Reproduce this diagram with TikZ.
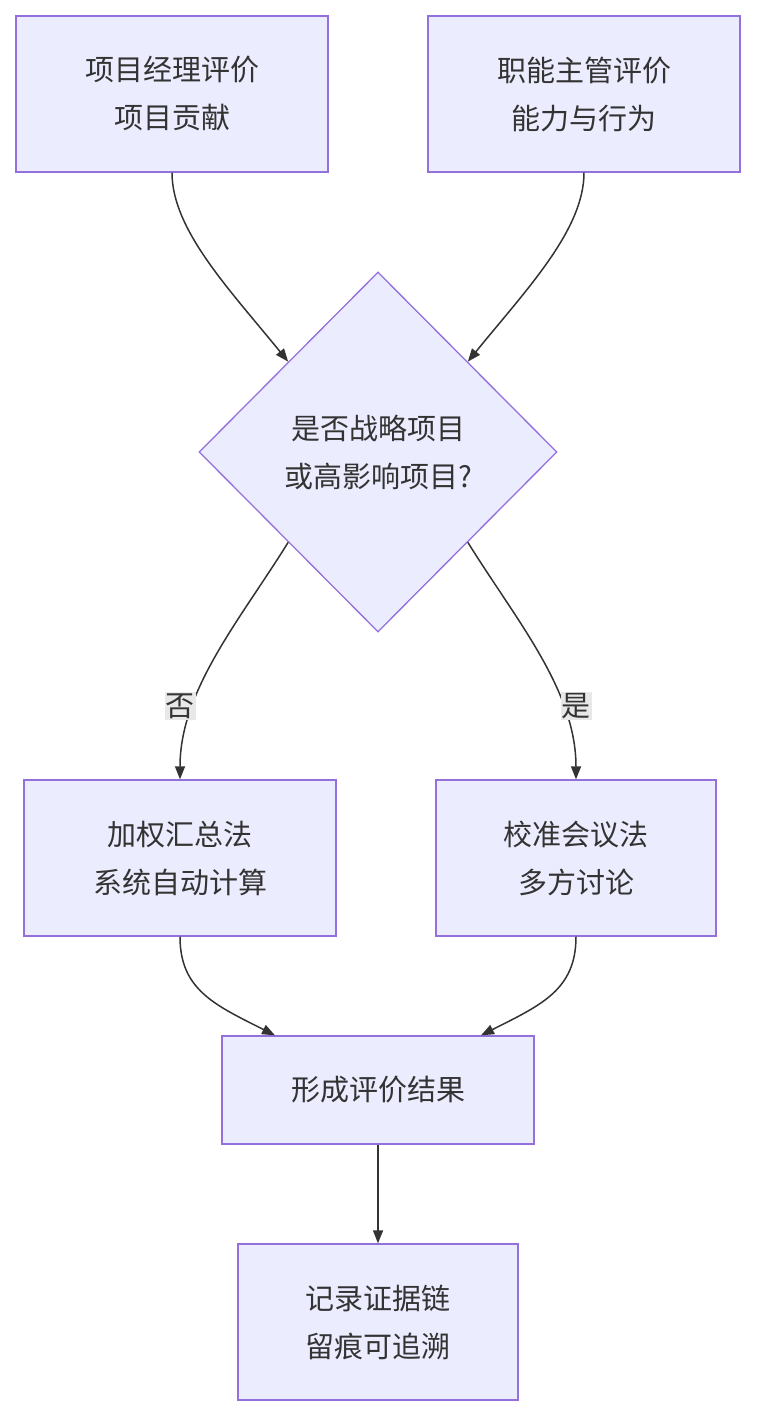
\documentclass[tikz,border=0pt]{standalone}
\usepackage{fontspec}
\setmainfont{Noto Sans CJK SC}
\usetikzlibrary{shapes.geometric,arrows.meta}
\definecolor{nfill}{HTML}{ECECFF}
\definecolor{nline}{HTML}{9370DB}
\definecolor{ntext}{HTML}{333333}
\definecolor{lbg}{HTML}{E8E8E8}
\begin{document}
\begin{tikzpicture}[x=1pt,y=-1pt,
  box/.style={draw=nline,fill=nfill,line width=1.3pt,text=ntext,align=center,inner sep=0pt,
    font=\fontsize{29}{48}\selectfont},
  dia/.style={diamond,draw=nline,fill=nfill,line width=1.3pt,text=ntext,align=center,inner sep=0pt,
    minimum width=358pt,minimum height=360pt,font=\fontsize{29}{48}\selectfont},
  lab/.style={fill=lbg,text=ntext,inner sep=1pt,font=\fontsize{29}{34}\selectfont},
  arr/.style={draw=ntext,line width=1.5pt,-{Triangle[length=13pt,width=10pt]}}]
\useasboundingbox (0,0) rectangle (756,1415);
\node[box,minimum width=312pt,minimum height=156pt] (a) at (172,94) {项目经理评价\\项目贡献};
\node[box,minimum width=312pt,minimum height=156pt] (b) at (584,94) {职能主管评价\\能力与行为};
\node[dia] (q) at (378,452) {是否战略项目\\或高影响项目?};
\node[box,minimum width=312pt,minimum height=156pt] (c) at (180,858) {加权汇总法\\系统自动计算};
\node[box,minimum width=280pt,minimum height=156pt] (d) at (576,858) {校准会议法\\多方讨论};
\node[box,minimum width=312pt,minimum height=108pt] (e) at (378,1090) {形成评价结果};
\node[box,minimum width=280pt,minimum height=156pt] (f) at (378,1322) {记录证据链\\留痕可追溯};
\draw[arr] (a.south) .. controls (172,230) and (230,290) .. (q.north west);
\draw[arr] (b.south) .. controls (584,230) and (526,290) .. (q.north east);
\draw[arr] (q.south west) .. controls (240,620) and (180,690) .. (c.north);
\draw[arr] (q.south east) .. controls (516,620) and (576,690) .. (d.north);
\node[lab] (n) at (180,706) {否};
\node[lab] (y) at (576,706) {是};
\draw[arr] (c.south) .. controls (180,990) and (215,1005) .. ([xshift=-103pt]e.north);
\draw[arr] (d.south) .. controls (576,990) and (541,1005) .. ([xshift=103pt]e.north);
\draw[arr] (e.south) -- (f.north);
\end{tikzpicture}
\end{document}
